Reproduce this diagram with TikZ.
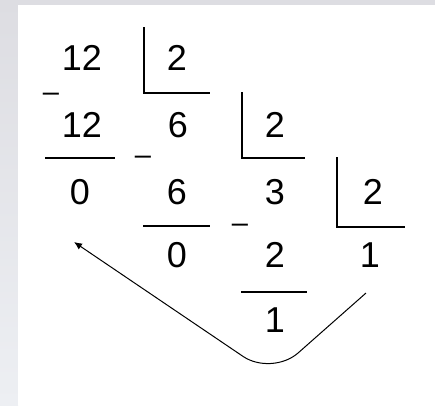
\documentclass[tikz,border=0pt]{standalone}
\usepackage{fontspec}
\setmainfont{Liberation Sans}
\usepackage{xcolor}
\usepackage{tikz}
\usetikzlibrary{arrows.meta}

\definecolor{frametop}{RGB}{221,221,226}
\definecolor{framebot}{RGB}{237,239,243}

\begin{document}
\begin{tikzpicture}[
  x=1pt, y=-1pt,
  num/.style={inner sep=0pt, font=\fontsize{36}{40}\selectfont},
  minus/.style={inner sep=0pt, anchor=base, font=\fontsize{29}{32}\selectfont},
  bar/.style={line width=2pt},
  arr/.style={-{Latex[length=8pt, width=7pt]}, line width=1pt, rounded corners=35pt}
]
\fill[frametop] (0,0) rectangle (435,405);
\shade[top color=frametop, bottom color=framebot] (0,0) rectangle (18,405);
\fill[white] (18,5) rectangle (435,405);

\node[num] (dvd1) at (82,58) {12};
\node[num] (dsr1) at (177,58) {2};
\node[num] (sub1) at (82,125) {12};
\node[num] (quo1) at (178,125) {6};
\node[num] (dsr2) at (275,125) {2};
\node[num] (rem1) at (80,192) {0};
\node[num] (sub2) at (177,192) {6};
\node[num] (quo2) at (275,192) {3};
\node[num] (dsr3) at (373,192) {2};
\node[num] (rem2) at (177,255) {0};
\node[num] (sub3) at (275,255) {2};
\node[num] (quo3) at (370,255) {1};
\node[num] (rem3) at (275,320) {1};

\node[minus] (mns1) at (51,101) {–};
\node[minus] (mns2) at (143,164) {–};
\node[minus] (mns3) at (240,232) {–};

\draw[bar] (144,27) -- (144,93) -- (210,93);
\draw[bar] (242,92) -- (242,158) -- (305,158);
\draw[bar] (337,157) -- (337,227) -- (405,227);
\draw[bar] (45,158) -- (115,158);
\draw[bar] (143,226) -- (210,226);
\draw[bar] (241,292) -- (307,292);

\coordinate (tail) at (366,293);
\coordinate (bend) at (272,376);
\coordinate (head) at (74,242);
\draw[arr] (tail) -- (bend) -- (head);
\end{tikzpicture}
\end{document}
